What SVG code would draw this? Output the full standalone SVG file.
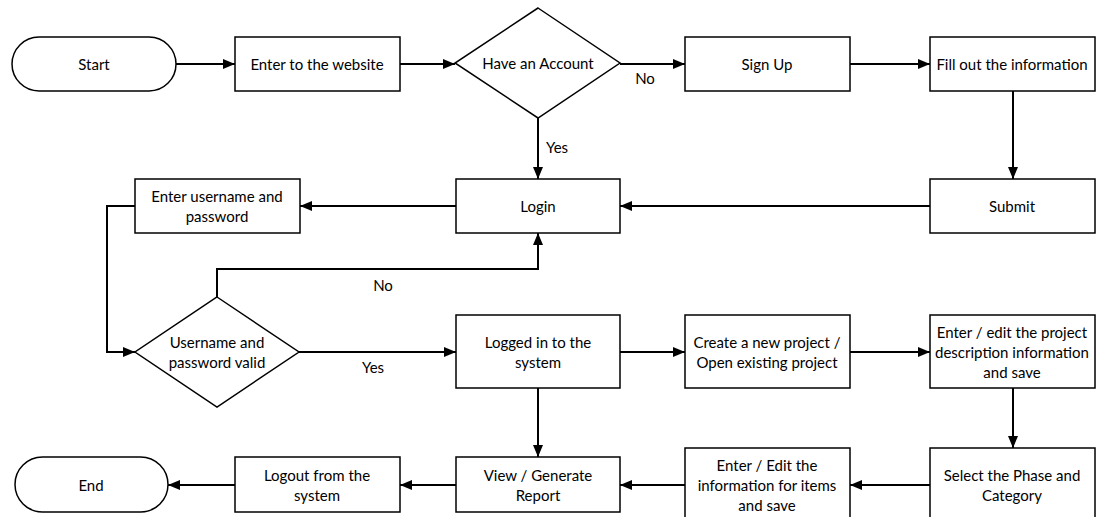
<svg xmlns="http://www.w3.org/2000/svg" width="1097" height="517" viewBox="0 0 1097 517">
  <style>
    .shape { fill: #ffffff; stroke: #000000; stroke-width: 1.5; }
    .edge { fill: none; stroke: #000000; stroke-width: 2; marker-end: url(#arrow); }
    text { font-family: Lato, "Open Sans", "Liberation Sans", sans-serif; font-size: 15px; fill: #000000; text-anchor: middle; dominant-baseline: central; }
  </style>
  <defs>
    <marker id="arrow" viewBox="0 0 12 10" refX="12" refY="5" markerWidth="12" markerHeight="10" markerUnits="userSpaceOnUse" orient="auto">
      <path d="M0,0 L12,5 L0,10 Z" fill="#000000"/>
    </marker>
  </defs>
  <rect width="1097" height="517" fill="#ffffff"/>

  <!-- connectors -->
  <g id="connectors">
    <path class="edge" d="M176,64 H235"/>
    <path class="edge" d="M400,64 H455"/>
    <path class="edge" d="M620,64 H685"/>
    <path class="edge" d="M850,64 H930"/>
    <path class="edge" d="M1013,91 V179"/>
    <path class="edge" d="M538,118 V179"/>
    <path class="edge" d="M930,206 H620"/>
    <path class="edge" d="M456,206 H300"/>
    <path class="edge" d="M135,206 H107 V352 H135"/>
    <path class="edge" d="M217,297 V269 H538 V233"/>
    <path class="edge" d="M299,352 H456"/>
    <path class="edge" d="M620,352 H685"/>
    <path class="edge" d="M850,352 H930"/>
    <path class="edge" d="M1013,388 V448"/>
    <path class="edge" d="M538,388 V457"/>
    <path class="edge" d="M930,485 H850"/>
    <path class="edge" d="M685,485 H620"/>
    <path class="edge" d="M456,485 H400"/>
    <path class="edge" d="M235,485 H168"/>
    <text x="645" y="78">No</text>
    <text x="557" y="147">Yes</text>
    <text x="383" y="285">No</text>
    <text x="373" y="367">Yes</text>
  </g>

  <!-- nodes -->
  <g id="start">
    <rect class="shape" x="12" y="37" width="164" height="54" rx="27" ry="27"/>
    <text x="94" y="64">Start</text>
  </g>
  <g id="enter-website">
    <rect class="shape" x="235" y="37" width="165" height="54"/>
    <text x="317" y="64">Enter to the website</text>
  </g>
  <g id="have-account">
    <polygon class="shape" points="538,8 620,63 538,118 455,63"/>
    <text x="538" y="63">Have an Account</text>
  </g>
  <g id="sign-up">
    <rect class="shape" x="685" y="37" width="165" height="54"/>
    <text x="767" y="64">Sign Up</text>
  </g>
  <g id="fill-info">
    <rect class="shape" x="930" y="37" width="165" height="54"/>
    <text x="1012" y="64">Fill out the information</text>
  </g>
  <g id="submit">
    <rect class="shape" x="930" y="179" width="165" height="54"/>
    <text x="1012" y="206">Submit</text>
  </g>
  <g id="login">
    <rect class="shape" x="456" y="179" width="164" height="54"/>
    <text x="538" y="206">Login</text>
  </g>
  <g id="enter-credentials">
    <rect class="shape" x="135" y="179" width="165" height="54"/>
    <text x="217" y="196">Enter username and</text>
    <text x="217" y="216">password</text>
  </g>
  <g id="credentials-valid">
    <polygon class="shape" points="217,297 299,352 217,407 135,352"/>
    <text x="217" y="342">Username and</text>
    <text x="217" y="362">password valid</text>
  </g>
  <g id="logged-in">
    <rect class="shape" x="456" y="315" width="164" height="73"/>
    <text x="538" y="342">Logged in to the</text>
    <text x="538" y="362">system</text>
  </g>
  <g id="open-project">
    <rect class="shape" x="685" y="315" width="165" height="73"/>
    <text x="767" y="342">Create a new project /</text>
    <text x="767" y="362">Open existing project</text>
  </g>
  <g id="edit-description">
    <rect class="shape" x="930" y="315" width="165" height="73"/>
    <text x="1012" y="332">Enter / edit the project</text>
    <text x="1012" y="352">description information</text>
    <text x="1012" y="372">and save</text>
  </g>
  <g id="select-phase">
    <rect class="shape" x="930" y="448" width="165" height="74"/>
    <text x="1012" y="475">Select the Phase and</text>
    <text x="1012" y="495">Category</text>
  </g>
  <g id="edit-items">
    <rect class="shape" x="685" y="448" width="165" height="74"/>
    <text x="767" y="465">Enter / Edit the</text>
    <text x="767" y="485">information for items</text>
    <text x="767" y="505">and save</text>
  </g>
  <g id="report">
    <rect class="shape" x="456" y="457" width="164" height="55"/>
    <text x="538" y="475">View / Generate</text>
    <text x="538" y="495">Report</text>
  </g>
  <g id="logout">
    <rect class="shape" x="235" y="457" width="165" height="55"/>
    <text x="317" y="475">Logout from the</text>
    <text x="317" y="495">system</text>
  </g>
  <g id="end">
    <rect class="shape" x="15" y="457" width="153" height="55" rx="27.5" ry="27.5"/>
    <text x="91" y="485">End</text>
  </g>
</svg>
